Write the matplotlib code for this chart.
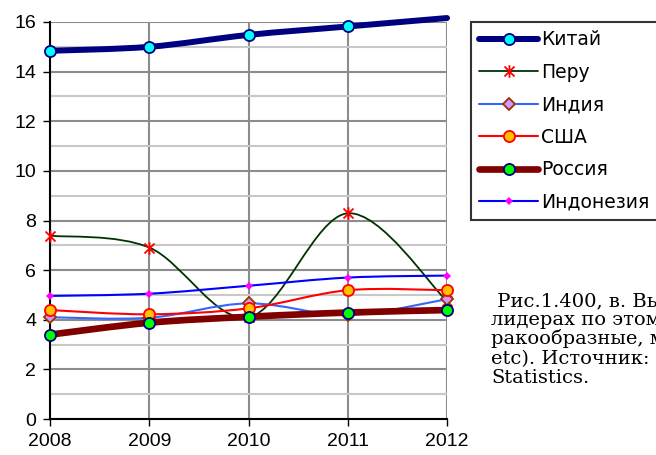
import matplotlib
matplotlib.use('Agg')
import matplotlib.pyplot as plt
import numpy as np
from matplotlib.path import Path
from matplotlib.patches import PathPatch
from matplotlib.lines import Line2D

years = [2008, 2009, 2010, 2011, 2012]
china = [14.84, 15.0, 15.48, 15.82, 16.16]
peru = [7.39, 6.91, 4.1, 8.29, 4.75]
india = [4.1, 4.08, 4.66, 4.19, 4.83]
usa = [4.39, 4.22, 4.46, 5.19, 5.19]
russia = [3.4, 3.88, 4.12, 4.29, 4.39]
indonesia = [4.96, 5.05, 5.37, 5.70, 5.78]

labels = ['Китай', 'Перу', 'Индия', 'США', 'Россия', 'Индонезия']
caption = [' Рис.1.400, в. Вылов', 'лидерах по этому', 'ракообразные, мол',
           'etc). Источник: FAO', 'Statistics.']

plt.rcParams['font.family'] = ['Liberation Sans', 'DejaVu Sans']

# Excel-style smoothed line: bezier segments through the data points
def smooth_path(xs, ys):
    pts = np.column_stack([xs, ys]).astype(float)
    n = len(pts)
    verts = [pts[0]]
    codes = [Path.MOVETO]
    for i in range(n - 1):
        p0 = pts[max(i - 1, 0)]
        p1 = pts[i]
        p2 = pts[i + 1]
        p3 = pts[min(i + 2, n - 1)]
        verts += [p1 + (p2 - p0) / 6, p2 - (p3 - p1) / 6, p2]
        codes += [Path.CURVE4] * 3
    return Path(verts, codes)

ast = Path([(0, -1), (0, 1), (-0.8, -0.8), (0.8, 0.8), (-0.8, 0.8), (0.8, -0.8)],
           [Path.MOVETO, Path.LINETO] * 3)

series = [
    (china, dict(color='#000080', lw=4.3), dict(marker='o', ms=8, mfc='#00FFFF', mec='#000080', mew=1.3)),
    (peru, dict(color='#003300', lw=1.3), dict(marker=ast, ms=9, mfc='none', mec='#FF0000', mew=1.3)),
    (india, dict(color='#3366FF', lw=1.5), dict(marker='D', ms=6.5, mfc='#CC99FF', mec='#993300', mew=1.3)),
    (usa, dict(color='#FF0000', lw=1.5), dict(marker='o', ms=8, mfc='#FFC000', mec='#FF0000', mew=1.3)),
    (russia, dict(color='#800000', lw=4.8), dict(marker='o', ms=8, mfc='#00FF00', mec='#000080', mew=1.3)),
    (indonesia, dict(color='#0000FF', lw=1.5), dict(marker='D', ms=4.5, mfc='#FF00FF', mec='#FF00FF', mew=0)),
]

fig = plt.figure(figsize=(6.56, 4.55), dpi=100)
ax = fig.add_axes([50 / 656, 1 - 419 / 455, 397 / 656, 397 / 455])

ax.set_xlim(2008, 2012)
ax.set_ylim(0, 16)
ax.set_xticks(years)
ax.set_yticks(range(0, 17, 2))
ax.set_yticks(range(1, 16, 2), minor=True)
ax.tick_params(axis='y', which='minor', length=0)
ax.tick_params(which='major', direction='out', length=5, width=1, labelsize=14, pad=5, colors='black')
ax.grid(True, which='major', color='#8c8c8c', lw=1.5, zorder=0)
ax.grid(True, which='minor', axis='y', color='#c8c8c8', lw=1.5, zorder=0)
ax.set_axisbelow(True)
for s in ['top', 'right']:
    ax.spines[s].set_visible(False)
for s in ['left', 'bottom']:
    ax.spines[s].set_linewidth(1.5)
    ax.spines[s].set_zorder(1)

handles = []
for i, (vals, ls, ms) in enumerate(series):
    patch = PathPatch(smooth_path(years, vals), fill=False, edgecolor=ls['color'],
                      lw=ls['lw'], capstyle='round', joinstyle='round', zorder=2 + i, clip_on=False)
    ax.add_patch(patch)
    xs, ys = years, vals
    if vals is china:
        xs, ys = years[:4], vals[:4]
    ax.plot(xs, ys, linestyle='none', zorder=2.5 + i, clip_on=False, **ms)
    handles.append(Line2D([], [], color=ls['color'], lw=ls['lw'], solid_capstyle='round', **ms))

leg = fig.legend(handles, labels, loc='upper left', bbox_to_anchor=(471 / 656, 1 - 22 / 455),
                 prop={'family': 'DejaVu Sans', 'size': 13.5}, frameon=True, fancybox=False,
                 edgecolor='black', handlelength=3.1, handletextpad=0.2, labelspacing=0.72,
                 borderpad=0.45, borderaxespad=0)
leg.get_frame().set_linewidth(1.5)

for k, line in enumerate(caption):
    fig.text(491 / 656, 1 - (306 + 19.2 * k) / 455, line, fontsize=14,
             family=['DejaVu Serif'], va='baseline', ha='left')

fig.savefig('out.png', dpi=100)
